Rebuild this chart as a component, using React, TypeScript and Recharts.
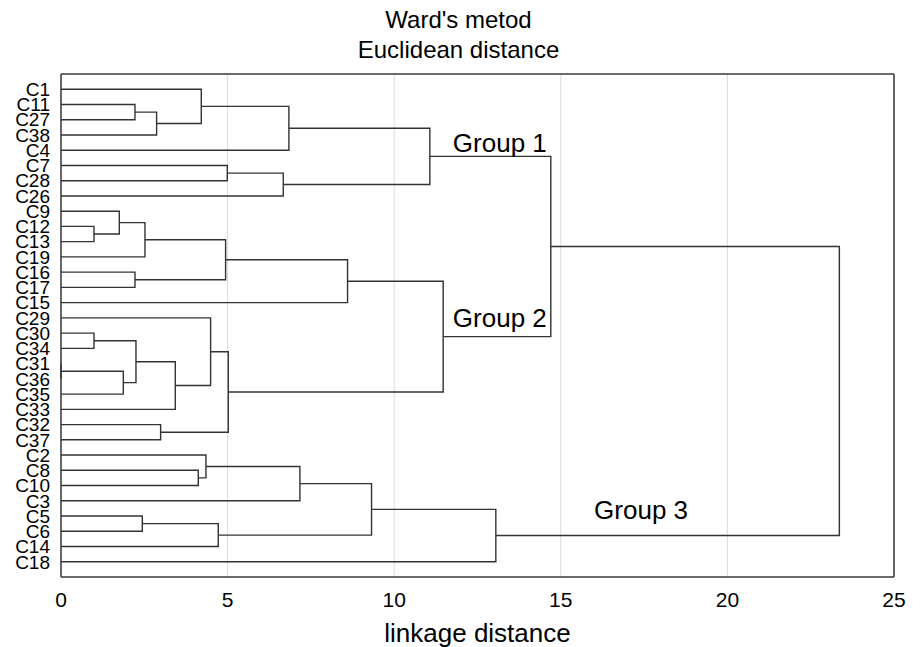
import React from 'react';
import { ScatterChart, Scatter, XAxis, YAxis, CartesianGrid } from 'recharts';

const FONT = '"Liberation Sans", Arial, Helvetica, sans-serif';
const LINE = '#333333';
const FRAME = '#3a3a3a';

// leaves in the order they are drawn, top to bottom
const LEAVES = [
  'C1', 'C11', 'C27', 'C38', 'C4', 'C7', 'C28', 'C26',
  'C9', 'C12', 'C13', 'C19', 'C16', 'C17', 'C15',
  'C29', 'C30', 'C34', 'C31', 'C36', 'C35', 'C33', 'C32', 'C37',
  'C2', 'C8', 'C10', 'C3', 'C5', 'C6', 'C14', 'C18',
];

// [first child, second child, linkage distance]; merge i is referred to as "m" + i
const MERGES: [string, string, number][] = [
  ['C11', 'C27', 2.22],  // m0
  ['m0', 'C38', 2.87],   // m1
  ['C1', 'm1', 4.21],    // m2
  ['m2', 'C4', 6.84],    // m3
  ['C7', 'C28', 4.99],   // m4
  ['m4', 'C26', 6.67],   // m5
  ['m3', 'm5', 11.07],   // m6  group 1
  ['C12', 'C13', 0.99],  // m7
  ['C9', 'm7', 1.75],    // m8
  ['m8', 'C19', 2.52],   // m9
  ['C16', 'C17', 2.22],  // m10
  ['m9', 'm10', 4.94],   // m11
  ['m11', 'C15', 8.6],   // m12
  ['C30', 'C34', 0.99],  // m13
  ['C31', 'C36', 0.0],   // m14
  ['m14', 'C35', 1.87],  // m15
  ['m13', 'm15', 2.25],  // m16
  ['m16', 'C33', 3.43],  // m17
  ['C29', 'm17', 4.49],  // m18
  ['C32', 'C37', 2.99],  // m19
  ['m18', 'm19', 5.02],  // m20
  ['m12', 'm20', 11.47], // m21 group 2
  ['m6', 'm21', 14.7],   // m22
  ['C8', 'C10', 4.12],   // m23
  ['C2', 'm23', 4.35],   // m24
  ['m24', 'C3', 7.17],   // m25
  ['C5', 'C6', 2.44],    // m26
  ['m26', 'C14', 4.72],  // m27
  ['m25', 'm27', 9.32],  // m28
  ['m28', 'C18', 13.05], // m29 group 3
  ['m22', 'm29', 23.36], // m30 root
];

const GROUP_LABELS = ['Group 1', 'Group 2', 'Group 3'];
const GROUP_X = [11.76, 11.76, 16.0];
const GROUP_Y = [4.09, 15.6, 28.2];

const X_TICKS = [0, 5, 10, 15, 20, 25];
const X_MINOR_TICKS = [0, 1, 2, 3, 4, 5, 6, 7, 8, 9, 10, 11, 12, 13, 14, 15, 16, 17, 18, 19, 20, 21, 22, 23, 24, 25];
const LEAF_TICKS = LEAVES.map((_, i) => i);

// build the U-shaped links of the dendrogram
const nodePos: Record<string, { x: number; y: number }> = {};
LEAVES.forEach((name, i) => {
  nodePos[name] = { x: 0, y: i };
});
const links = MERGES.map(([a, b, h], i) => {
  const pa = nodePos[a];
  const pb = nodePos[b];
  nodePos['m' + i] = { x: h, y: (pa.y + pb.y) / 2 };
  return [
    { x: pa.x, y: pa.y },
    { x: h, y: pa.y },
    { x: h, y: pb.y },
    { x: pb.x, y: pb.y },
  ];
});

const groupData = GROUP_LABELS.map((label, i) => ({ x: GROUP_X[i], y: GROUP_Y[i], label }));

const noPoint = () => <g />;

const GroupText = (props: any) => (
  <text x={props.cx} y={props.cy} fontSize={26} fontFamily={FONT} fill="#000">
    {props.payload.label}
  </text>
);

export default function App() {
  return (
    <div style={{ position: 'absolute', left: 0, top: 0, width: 920, height: 647, background: '#fff' }}>
      <ScatterChart
        width={920}
        height={647}
        margin={{ top: 74, right: 26, bottom: 0, left: 0 }}
        style={{ fontFamily: FONT }}
      >
        <CartesianGrid xAxisId="x" yAxisId="y" horizontal={false} stroke="#dcdcdc" strokeWidth={1} />
        <XAxis
          xAxisId="x"
          dataKey="x"
          type="number"
          domain={[0, 25]}
          ticks={X_TICKS}
          interval={0}
          height={70}
          tickLine={false}
          tickSize={0}
          tickMargin={15}
          axisLine={{ stroke: FRAME, strokeWidth: 1.5 }}
          tick={{ fontSize: 21, fill: '#000', fontFamily: FONT }}
          label={{ value: 'linkage distance', position: 'insideBottom', offset: 5, fontSize: 26, fill: '#000', fontFamily: FONT }}
        />
        <XAxis
          xAxisId="xb"
          dataKey="x"
          type="number"
          domain={[0, 25]}
          ticks={X_MINOR_TICKS}
          interval={0}
          mirror
          tick={false}
          tickSize={4}
          axisLine={false}
          tickLine={{ stroke: FRAME }}
        />
        <XAxis
          xAxisId="xt"
          dataKey="x"
          orientation="top"
          type="number"
          domain={[0, 25]}
          ticks={X_MINOR_TICKS}
          interval={0}
          mirror
          tick={false}
          tickSize={4}
          axisLine={{ stroke: FRAME, strokeWidth: 1.5 }}
          tickLine={{ stroke: FRAME }}
        />
        <YAxis
          yAxisId="y"
          dataKey="y"
          type="number"
          domain={[-1, 32]}
          reversed
          ticks={LEAF_TICKS}
          interval={0}
          width={61}
          tickLine={false}
          tickSize={0}
          tickMargin={11}
          tickFormatter={(v: number) => LEAVES[v] ?? ''}
          axisLine={{ stroke: FRAME, strokeWidth: 1.5 }}
          tick={{ fontSize: 19, fill: '#000', fontFamily: FONT }}
        />
        <YAxis
          yAxisId="yl"
          dataKey="y"
          type="number"
          domain={[-1, 32]}
          reversed
          ticks={LEAF_TICKS}
          interval={0}
          mirror
          tick={false}
          tickSize={4}
          axisLine={false}
          tickLine={{ stroke: FRAME }}
        />
        <YAxis
          yAxisId="yr"
          dataKey="y"
          orientation="right"
          type="number"
          domain={[-1, 32]}
          reversed
          ticks={LEAF_TICKS}
          interval={0}
          mirror
          tick={false}
          tickSize={4}
          axisLine={{ stroke: FRAME, strokeWidth: 1.5 }}
          tickLine={{ stroke: FRAME }}
        />
        {links.map((pts, i) => (
          <Scatter
            key={i}
            data={pts}
            xAxisId="x"
            yAxisId="y"
            line={{ stroke: LINE, strokeWidth: 1.4 }}
            lineType="joint"
            shape={noPoint}
            isAnimationActive={false}
          />
        ))}
        <Scatter data={groupData} xAxisId="x" yAxisId="y" shape={GroupText} isAnimationActive={false} />
      </ScatterChart>
      <svg
        width={920}
        height={70}
        style={{ position: 'absolute', left: 0, top: 0, pointerEvents: 'none' }}
      >
        <text x={458.5} y={27.7} textAnchor="middle" fontSize={24} fontFamily={FONT} fill="#000">
          Ward's metod
        </text>
        <text x={458.5} y={58.3} textAnchor="middle" fontSize={24} fontFamily={FONT} fill="#000">
          Euclidean distance
        </text>
      </svg>
    </div>
  );
}
